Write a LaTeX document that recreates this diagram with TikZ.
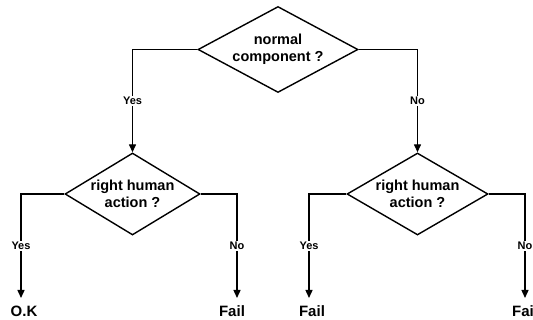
\documentclass[tikz,border=0pt]{standalone}
\usepackage{fontspec}
\setmainfont{Liberation Sans}
\usetikzlibrary{shapes.geometric,arrows.meta}
\tikzset{
  decision/.style={draw, shape=diamond, line width=1.4pt, inner sep=0pt,
    align=center, font=\bfseries\fontsize{14.5}{17}\selectfont},
  arr/.style={line width=1.4pt, -{Triangle[length=8pt,width=7pt]}},
  lbl/.style={fill=white, inner sep=1pt, font=\bfseries\fontsize{11}{12}\selectfont},
  outcome/.style={inner sep=0pt, anchor=base, font=\bfseries\fontsize{15}{16}\selectfont}
}
\begin{document}
\begin{tikzpicture}[x=1pt,y=-1pt]
  \useasboundingbox (0,0) rectangle (533,320);

  % decision nodes
  \node[decision, minimum width=160pt, minimum height=86pt, aspect=1.86]
    (top) at (278,49.5) {normal\\component ?};
  \node[decision, minimum width=135pt, minimum height=82pt, aspect=1.65]
    (left) at (132.5,194) {right human\\action ?};
  \node[decision, minimum width=141pt, minimum height=82pt, aspect=1.72]
    (right) at (417.5,194) {right human\\action ?};

  % outcomes
  \node[outcome] (ok)    at (24,317)  {O.K};
  \node[outcome] (fail1) at (232,317) {Fail};
  \node[outcome] (fail2) at (312,317) {Fail};
  \node[outcome, anchor=base west] (fail3) at (512,317) {Fai};

  % arrow ends above the outcomes
  \coordinate (e1) at (21,298);
  \coordinate (e2) at (237,298);
  \coordinate (e3) at (309,298);
  \coordinate (e4) at (525,298);

  % connectors
  \draw[arr] (top.west) -| node[pos=0.75, lbl] {Yes} (left.north);
  \draw[arr] (top.east) -| node[pos=0.75, lbl] {No} (right.north);
  \draw[arr] (left.west) -| node[pos=0.75, lbl] {Yes} (e1);
  \draw[arr] (left.east) -| node[pos=0.75, lbl] {No} (e2);
  \draw[arr] (right.west) -| node[pos=0.75, lbl] {Yes} (e3);
  \draw[arr] (right.east) -| node[pos=0.75, lbl] {No} (e4);
\end{tikzpicture}
\end{document}
